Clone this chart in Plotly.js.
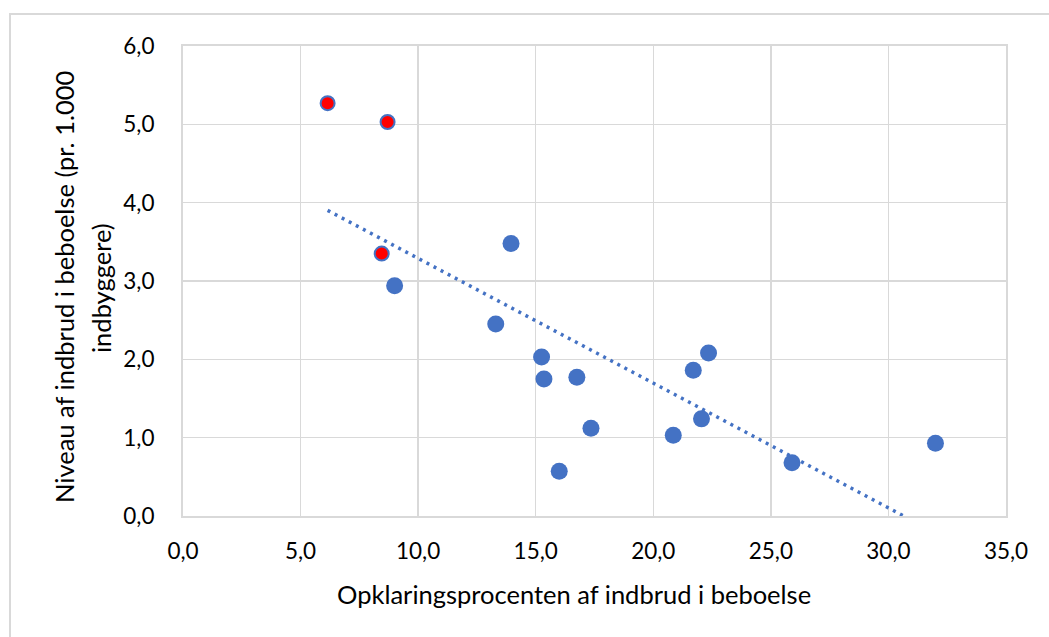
<!DOCTYPE html>
<html>
<head>
<meta charset="utf-8">
<script src="https://cdn.plot.ly/plotly-3.0.1.min.js"></script>
<style>
html,body{margin:0;padding:0;background:#fff;}
#wrap{position:relative;width:1049px;height:637px;}
#chart{position:absolute;left:0;top:0;width:1049px;height:637px;}
#frame{position:absolute;left:9px;top:13px;width:1040px;height:624px;border-left:2px solid #d9d9d9;border-top:2px solid #d9d9d9;box-sizing:border-box;pointer-events:none;}
</style>
</head>
<body>
<div id="wrap"><div id="chart"></div><div id="frame"></div></div>
<script>
// Opklaringsprocent (x) and niveau pr. 1.000 indbyggere (y)
const blueX = [9.0, 13.95, 13.3, 15.25, 15.35, 16.75, 16.0, 17.35, 21.7, 22.35, 22.05, 20.85, 25.9, 32.0];
const blueY = [2.94, 3.48, 2.45, 2.03, 1.75, 1.77, 0.57, 1.12, 1.86, 2.08, 1.24, 1.03, 0.68, 0.93];
const redX = [6.15, 8.7, 8.45];
const redY = [5.27, 5.03, 3.35];

const xTickVals = [0, 5, 10, 15, 20, 25, 30, 35];
const yTickVals = [0, 1, 2, 3, 4, 5, 6];

const xTitle = 'Opklaringsprocenten af indbrud i beboelse';
const yTitleLines = ['Niveau af indbrud i beboelse (pr. 1.000', 'indbyggere)'];

// linear trendline (least squares) over all points
const allX = blueX.concat(redX), allY = blueY.concat(redY);
const n = allX.length;
const mx = allX.reduce((a,b)=>a+b,0)/n, my = allY.reduce((a,b)=>a+b,0)/n;
let sxy = 0, sxx = 0;
for (let i=0;i<n;i++){ sxy += (allX[i]-mx)*(allY[i]-my); sxx += (allX[i]-mx)**2; }
const slope = sxy/sxx, intercept = my - slope*mx;
const xmin = Math.min(...allX), xmax = Math.max(...allX);
const trendX = [xmin, xmax];
const trendY = trendX.map(v => intercept + slope*v);

const blue = '#4472C4';
const font = 'Lato, "Liberation Sans", sans-serif';

const traces = [
  {x: trendX, y: trendY, mode: 'lines', type: 'scatter', cliponaxis: true,
   line: {color: blue, width: 3.5, dash: '3px,5px'}, hoverinfo: 'skip'},
  {x: blueX, y: blueY, mode: 'markers', type: 'scatter',
   marker: {color: blue, size: 17, line: {width: 0}}},
  {x: redX, y: redY, mode: 'markers', type: 'scatter',
   marker: {color: '#FF0000', size: 14, line: {color: blue, width: 2}}}
];

const axisCommon = {
  showgrid: true, gridcolor: '#d9d9d9', gridwidth: 1.5,
  showline: true, linecolor: '#d9d9d9', linewidth: 2, mirror: true,
  zeroline: false, ticks: '', tickformat: '.1f',
  tickfont: {family: font, size: 22.5, color: '#000'}
};

const titleFont = {family: font, size: 25.5, color: '#000'};
const L = 183, R = 1006, T = 46, B = 516;
const px2x = p => (p - L) / (R - L);
const px2y = p => (B - p) / (B - T);

const layout = {
  width: 1049, height: 637,
  margin: {l: L, r: 1049 - R, t: T, b: 637 - B},
  paper_bgcolor: 'rgba(0,0,0,0)', plot_bgcolor: '#fff',
  separators: ',.',
  showlegend: false,
  font: {family: font, color: '#000'},
  xaxis: Object.assign({}, axisCommon, {
    range: [0, 35], tickvals: xTickVals, ticklabelstandoff: 14
  }),
  yaxis: Object.assign({}, axisCommon, {
    range: [0, 6], tickvals: yTickVals, ticklabelstandoff: 22
  }),
  annotations: [
    {text: xTitle, xref: 'paper', yref: 'paper', x: px2x(574), y: px2y(594),
     xanchor: 'center', yanchor: 'middle', showarrow: false, font: titleFont},
    {text: yTitleLines[0], xref: 'paper', yref: 'paper', x: px2x(64), y: px2y(287),
     xanchor: 'center', yanchor: 'middle', textangle: -90, showarrow: false, font: titleFont},
    {text: yTitleLines[1], xref: 'paper', yref: 'paper', x: px2x(101), y: px2y(288),
     xanchor: 'center', yanchor: 'middle', textangle: -90, showarrow: false, font: titleFont}
  ]
};

Plotly.newPlot('chart', traces, layout, {displayModeBar: false, staticPlot: true});
</script>
</body>
</html>
